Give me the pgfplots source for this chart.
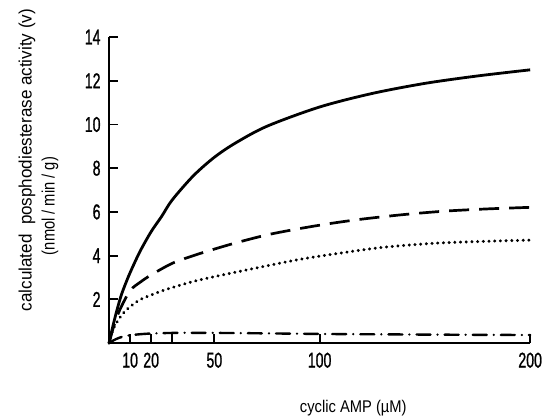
\documentclass[border=0pt]{standalone}
\usepackage{fontspec}
\setmainfont{Liberation Sans}
\newfontfamily\tickfont{Liberation Sans}[FakeStretch=0.66, FakeBold=1]
\newfontfamily\lblfont{Liberation Sans}[FakeStretch=0.87]
\newfontfamily\lblwide{Liberation Sans}[FakeStretch=0.95]
\newfontfamily\lblnarrow{Liberation Sans}[FakeStretch=0.82]
\usepackage{pgfplots}
\pgfplotsset{compat=1.18}
\begin{document}
\begin{tikzpicture}
\begin{axis}[
    width=421bp, height=306bp, scale only axis,
    xmin=0, xmax=200, ymin=0, ymax=14,
    axis x line=bottom, axis y line=left,
    axis line style={line width=2.4bp, -},
    tick style={line width=1.8bp, black},
    major tick length=9bp,
    tick align=inside,
    xtick={10,20,30,50,100,200},
    xticklabels={10,20,,50,100,200},
    ytick={2,4,6,8,10,12,14},
    /pgf/number format/assume math mode=true,
    ticklabel style={font=\tickfont\fontsize{21.5}{23}\selectfont},
    xticklabel style={yshift=-6bp},
    yticklabel style={xshift=-5bp},
    xlabel={cyclic AMP (µM)},
    xlabel style={at={(axis description cs:0.58,-0.212)}, anchor=center,
        font=\lblfont\fontsize{17}{19}\selectfont},
    clip=false,
]
\coordinate (bbbl) at (rel axis cs:-0.259,-0.2386);
\coordinate (bbtr) at (rel axis cs:1.040,1.121);
\node[rotate=90, font=\lblwide\fontsize{18}{20}\selectfont]
    at (axis description cs:-0.195,0.598) {calculated\ \ posphodiesterase activity (v)};
\node[rotate=90, font=\lblnarrow\fontsize{18}{20}\selectfont]
    at (axis description cs:-0.140,0.448) {(nmol / min / g)};

% solid
\addplot[black, line width=2.8bp, smooth] coordinates {
(0,0) (2,0.85) (4,1.6) (6,2.25) (9,3.0) (12,3.65) (15,4.25) (20,5.1) (25,5.8)
(30,6.55) (40,7.65) (50,8.5) (60,9.15) (75,9.92) (100,10.8) (125,11.42)
(150,11.88) (175,12.22) (200,12.5)
};
% dashed
\addplot[black, line width=2.7bp, smooth, dash pattern=on 20bp off 10bp] coordinates {
(0,0) (2,0.7) (5,1.5) (10,2.4) (15,2.8) (20,3.12) (30,3.65) (40,4.0) (50,4.3)
(60,4.58) (75,4.95) (90,5.23) (105,5.47) (120,5.67) (140,5.88) (160,6.04)
(180,6.14) (200,6.21)
};
% dotted
\addplot[black, line width=3.2bp, smooth, line cap=round, dash pattern=on 0.1bp off 5.6bp] coordinates {
(0,0) (2,0.65) (5,1.15) (8,1.5) (14,1.95) (20,2.2) (27,2.45) (40,2.82) (52,3.08)
(67,3.38) (90,3.82) (110,4.12) (130,4.38) (155,4.57) (180,4.66) (200,4.71)
};
% dash-dot
\addplot[black, line width=2.4bp, smooth, line cap=round, dash pattern=on 14bp off 7bp on 0.1bp off 7bp] coordinates {
(0,0) (2,0.12) (5,0.25) (10,0.36) (20,0.44) (35,0.47) (60,0.46) (100,0.42)
(150,0.39) (200,0.37)
};
\end{axis}
\pgfresetboundingbox
\path (bbbl) rectangle (bbtr);
\end{tikzpicture}
\end{document}
